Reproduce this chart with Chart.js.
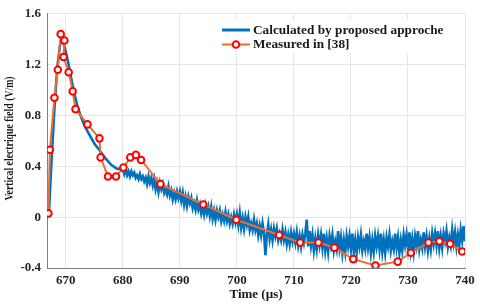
<!DOCTYPE html>
<html>
<head>
<meta charset="utf-8">
<script src="https://cdn.jsdelivr.net/npm/chart.js@4.4.1/dist/chart.umd.min.js"></script>
<style>
  html, body { margin: 0; padding: 0; background: #fff; }
  #wrap { width: 480px; height: 306px; }
</style>
</head>
<body>
<div id="wrap"><canvas id="chart" width="480" height="306"></canvas></div>
<script>
const measuredX = [666.95, 667.2, 668.0, 668.6, 669.1, 669.75, 669.6, 670.5, 671.2, 671.7, 673.8, 675.9, 676.1, 677.4, 678.8, 680.1, 681.3, 682.3, 683.2, 686.6, 694.1, 699.9, 707.4, 711.1, 714.3, 717.1, 720.4, 724.3, 728.2, 730.5, 733.6, 735.5, 737.4, 739.5];
const measuredY = [0.03, 0.53, 0.94, 1.16, 1.44, 1.39, 1.26, 1.14, 0.99, 0.85, 0.73, 0.62, 0.47, 0.32, 0.32, 0.39, 0.47, 0.49, 0.45, 0.26, 0.10, -0.02, -0.14, -0.20, -0.20, -0.24, -0.33, -0.38, -0.35, -0.28, -0.20, -0.19, -0.21, -0.27];

// Calculated by proposed approche - rise and smooth decay
const calcHeadX = [667.0, 667.5, 668.0, 668.5, 669.0, 669.4, 670.0, 670.5, 671.0, 671.5, 672.0, 672.5, 673.0, 673.5, 674.0, 675.0, 676.0, 677.0, 678.0, 679.0];
const calcHeadY = [0.00, 0.45, 0.85, 1.18, 1.36, 1.40, 1.30, 1.20, 1.08, 0.97, 0.88, 0.81, 0.75, 0.70, 0.66, 0.58, 0.52, 0.46, 0.41, 0.38];
// noisy tail, sampled every 0.25 us from 680 to 740 (one row = 5 us)
const calcTailStart = 680;
const calcTailStep = 0.25;
const calcTailY = [
  0.38, 0.34, 0.38, 0.33, 0.36, 0.32, 0.36, 0.33, 0.35, 0.31, 0.33, 0.30, 0.34, 0.30, 0.32, 0.28, 0.31, 0.26, 0.32, 0.27,
  0.31, 0.25, 0.30, 0.22, 0.27, 0.20, 0.27, 0.22, 0.26, 0.19, 0.22, 0.18, 0.24, 0.17, 0.21, 0.14, 0.19, 0.14, 0.20, 0.15,
  0.20, 0.13, 0.19, 0.10, 0.16, 0.09, 0.16, 0.11, 0.15, 0.07, 0.11, 0.06, 0.13, 0.06, 0.10, 0.03, 0.08, 0.02, 0.09, 0.03,
  0.08, 0.01, 0.08, -0.01, 0.05, -0.02, 0.05, 0.00, 0.05, -0.03, 0.02, -0.03, 0.04, -0.03, 0.02, -0.05, 0.00, -0.05, 0.02, -0.04,
  0.02, -0.06, 0.03, -0.08, -0.01, -0.09, 0.00, -0.06, 0.00, -0.10, -0.05, -0.10, -0.02, -0.10, -0.05, -0.14, -0.07, -0.14, -0.05, -0.12,
  -0.30, -0.14, -0.06, -0.17, -0.10, -0.18, -0.09, -0.15, -0.09, -0.18, -0.13, -0.18, -0.10, -0.18, -0.12, -0.21, -0.14, -0.21, -0.12, -0.19,
  -0.13, -0.20, -0.12, -0.22, -0.15, -0.23, -0.14, -0.20, -0.13, -0.02, -0.23, -0.11, -0.22, -0.14, -0.26, -0.17, -0.25, -0.14, -0.22, -0.14,
  -0.24, -0.13, -0.26, -0.17, -0.27, -0.15, -0.22, -0.14, -0.26, -0.19, -0.25, -0.11, -0.24, -0.16, -0.28, -0.18, -0.27, -0.15, -0.23, -0.15,
  -0.25, -0.13, -0.27, -0.18, -0.28, -0.16, -0.23, -0.14, -0.26, -0.19, -0.25, -0.13, -0.24, -0.16, -0.28, -0.18, -0.27, -0.15, -0.23, -0.15,
  -0.25, -0.13, -0.27, -0.18, -0.28, -0.16, -0.23, -0.14, -0.26, -0.19, -0.25, -0.13, -0.24, -0.16, -0.28, -0.18, -0.26, -0.14, -0.22, -0.14,
  -0.24, -0.12, -0.26, -0.17, -0.27, -0.15, -0.22, -0.11, -0.25, -0.18, -0.24, -0.12, -0.23, -0.15, -0.26, -0.17, -0.25, -0.13, -0.21, -0.13,
  -0.22, -0.11, -0.24, -0.15, -0.24, -0.13, -0.19, -0.11, -0.23, -0.16, -0.22, -0.10, -0.20, -0.12, -0.23, -0.14, -0.22, -0.10, -0.18, -0.07,
  -0.19];

const xTicks = [670, 680, 690, 700, 710, 720, 730, 740];
const blue = '#0072BD';
const orange = '#F36C2B';
const red = '#FF0000';
const serif = '"Liberation Serif", "Times New Roman", serif';

const calcData = calcHeadX.map((x, i) => ({ x: x, y: calcHeadY[i] }))
    .concat(calcTailY.map((y, i) => ({ x: calcTailStart + i * calcTailStep, y: y })));

// legend inside the plot (top right) and the rotated y title
const extras = {
    id: 'extras',
    afterDatasetsDraw(chart) {
        const ctx = chart.ctx;
        ctx.save();
        ctx.fillStyle = '#fff';
        ctx.fillRect(216, 20, 234, 33);
        ctx.lineWidth = 3;
        ctx.strokeStyle = blue;
        ctx.beginPath(); ctx.moveTo(222, 30); ctx.lineTo(250, 30); ctx.stroke();
        ctx.lineWidth = 2;
        ctx.strokeStyle = orange;
        ctx.beginPath(); ctx.moveTo(222, 44.5); ctx.lineTo(250, 44.5); ctx.stroke();
        ctx.beginPath(); ctx.arc(236, 44.5, 3.3, 0, Math.PI * 2);
        ctx.fillStyle = '#fff'; ctx.fill();
        ctx.strokeStyle = red; ctx.stroke();
        ctx.fillStyle = '#1a1a1a';
        ctx.font = 'bold 13.3px ' + serif;
        ctx.textBaseline = 'middle';
        ctx.fillText('Calculated by proposed approche', 253, 30.5);
        ctx.fillText('Measured in [38]', 253, 45);
        ctx.restore();

        // y title is a little condensed in the original
        ctx.save();
        ctx.translate(10.5, 138.5);
        ctx.rotate(-Math.PI / 2);
        ctx.scale(0.85, 1);
        ctx.fillStyle = '#1a1a1a';
        ctx.font = 'bold 11.5px ' + serif;
        ctx.textAlign = 'center';
        ctx.textBaseline = 'middle';
        ctx.fillText('Vertical electrique field (V/m)', 0, 0);
        ctx.restore();
    }
};

const ctx = document.getElementById('chart').getContext('2d');
new Chart(ctx, {
    type: 'line',
    data: {
        datasets: [{
            label: 'Measured in [38]',
            data: measuredX.map((x, i) => ({ x: x, y: measuredY[i] })),
            borderColor: orange,
            borderWidth: 2,
            pointRadius: 3.3,
            pointBorderWidth: 2,
            pointBorderColor: red,
            pointBackgroundColor: '#fff',
            tension: 0,
            order: 0
        }, {
            label: 'Calculated by proposed approche',
            data: calcData,
            borderColor: blue,
            borderWidth: 2.6,
            pointRadius: 0,
            tension: 0,
            order: 1
        }]
    },
    options: {
        responsive: false,
        animation: false,
        layout: { padding: { top: 11, right: 15, left: 0, bottom: 0 } },
        plugins: { legend: { display: false }, tooltip: { enabled: false } },
        scales: {
            x: {
                type: 'linear',
                min: 666.7,
                max: 740,
                afterBuildTicks: (scale) => { scale.ticks = xTicks.map(v => ({ value: v })); },
                afterFit: (scale) => { scale.height = 38; },
                grid: { color: '#e6e6e6', drawTicks: false },
                border: { color: '#808080', width: 1 },
                ticks: { padding: 5, color: '#262626', font: { family: serif, size: 13, weight: 'bold' }, maxRotation: 0 },
                title: { display: true, text: 'Time (µs)', color: '#1a1a1a', padding: { top: 0, bottom: 4 }, font: { family: serif, size: 13, weight: 'bold' } }
            },
            y: {
                min: -0.4,
                max: 1.6,
                ticks: {
                    stepSize: 0.4,
                    padding: 6,
                    color: '#262626',
                    font: { family: serif, size: 13, weight: 'bold' },
                    callback: (v) => String(+v.toFixed(1))
                },
                afterFit: (scale) => { scale.width = 47; },
                grid: { color: '#e6e6e6', drawTicks: false },
                border: { color: '#808080', width: 1 }
            }
        }
    },
    plugins: [extras]
});
</script>
</body>
</html>
